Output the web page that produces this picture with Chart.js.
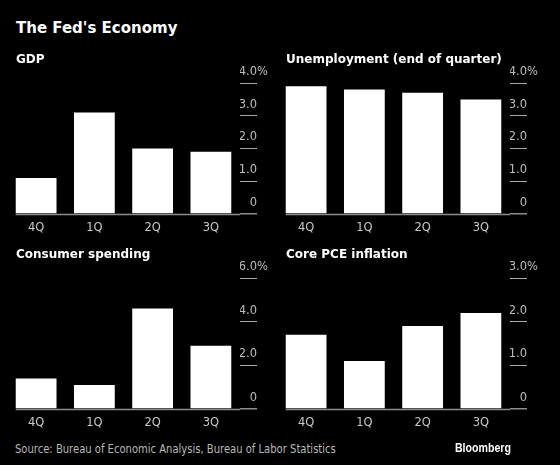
<!DOCTYPE html>
<html>
<head>
<meta charset="utf-8">
<script src="https://cdn.jsdelivr.net/npm/chart.js@4"></script>
<style>
  html, body { margin: 0; padding: 0; background: #000; }
  #wrap { position: relative; width: 560px; height: 465px; background: #000; overflow: hidden; }
  .box { position: absolute; width: 280px; height: 178px; }
  .txt { position: absolute; color: #fff; white-space: nowrap; font-family: "DejaVu Sans", sans-serif; font-weight: bold; z-index: 2; }
  .title { left: 16px; top: 19px; font-size: 15px; }
  .sub { font-size: 12px; }
  .source { left: 15px; top: 441px; font-family: "DejaVu Sans Condensed", sans-serif; font-weight: normal; font-size: 12.5px; color: #b8b8b8; transform: scaleX(0.89); transform-origin: left center; }
  .brand { right: 49px; top: 441px; font-family: "Liberation Sans", sans-serif; font-size: 12.5px; color: #fff; transform: scaleX(0.85); transform-origin: right center; }
</style>
</head>
<body>
<div id="wrap">
  <div class="txt title">The Fed's Economy</div>
  <div class="txt sub" style="left:16px;top:52px">GDP</div>
  <div class="txt sub" style="left:286px;top:52px">Unemployment (end of quarter)</div>
  <div class="txt sub" style="left:16px;top:247px">Consumer spending</div>
  <div class="txt sub" style="left:286px;top:247px">Core PCE inflation</div>

  <div class="box" style="left:0;top:62px"><canvas id="gdpChart"></canvas></div>
  <div class="box" style="left:270px;top:62px"><canvas id="unempChart"></canvas></div>
  <div class="box" style="left:0;top:257px"><canvas id="spendChart"></canvas></div>
  <div class="box" style="left:270px;top:257px"><canvas id="pceChart"></canvas></div>

  <div class="txt source">Source: Bureau of Economic Analysis, Bureau of Labor Statistics</div>
  <div class="txt brand">Bloomberg</div>
</div>

<script>
// quarters shown on every panel
const quarters = ['4Q', '1Q', '2Q', '3Q'];

// values, percent
const gdp = [1.1, 3.1, 2.0, 1.9];
const unemployment = [3.9, 3.8, 3.7, 3.5];
const consumerSpending = [1.4, 1.1, 4.6, 2.9];
const corePce = [1.7, 1.1, 1.9, 2.2];

// y axis range per panel: [min, max, step]
const gdpAxis = [0, 4, 1];
const unempAxis = [0, 4, 1];
const spendAxis = [0, 6, 2];
const pceAxis = [0, 3, 1];

const tickFont = { family: "'DejaVu Sans', sans-serif", size: 11.5 };

// baseline from first bar edge to the plot's right side
const baselinePlugin = {
    id: 'baseline',
    afterDatasetsDraw(chart) {
        const meta = chart.getDatasetMeta(0);
        const first = meta.data[0];
        const y = Math.round(chart.scales.y.getPixelForValue(0)) + 0.5;
        const ctx = chart.ctx;
        ctx.save();
        ctx.strokeStyle = '#8c8c8c';
        ctx.lineWidth = 1.5;
        ctx.beginPath();
        ctx.moveTo(first.x - first.width / 2, y);
        ctx.lineTo(chart.chartArea.right, y);
        ctx.stroke();
        ctx.restore();
    }
};

// percent sign hanging after the top tick label
const percentPlugin = {
    id: 'percentSign',
    afterDraw(chart) {
        const s = chart.scales.y;
        const last = s.ticks[s.ticks.length - 1];
        const ctx = chart.ctx;
        ctx.save();
        ctx.font = tickFont.size + 'px ' + tickFont.family;
        const y = s.getPixelForValue(last.value) + s.options.ticks.labelOffset;
        ctx.fillStyle = '#bdbdbd';
        ctx.textAlign = 'left';
        ctx.textBaseline = 'middle';
        ctx.fillText('%', s.right, y);
        ctx.restore();
    }
};

function tampilkanPanel(canvasId, values, axis) {
    const ctx = document.getElementById(canvasId).getContext('2d');
    return new Chart(ctx, {
        type: 'bar',
        data: {
            labels: quarters,
            datasets: [{
                data: values,
                backgroundColor: '#ffffff',
                borderWidth: 0,
                barPercentage: 0.7,
                categoryPercentage: 1.0
            }]
        },
        options: {
            responsive: true,
            maintainAspectRatio: false,
            animation: false,
            devicePixelRatio: 1,
            layout: { padding: { top: 21, left: 7, right: 23, bottom: 0 } },
            plugins: {
                legend: { display: false },
                tooltip: { enabled: false }
            },
            scales: {
                x: {
                    grid: { display: false },
                    border: { display: false },
                    ticks: { color: '#c8c8c8', font: tickFont, padding: -1 },
                    afterFit: (s) => { s.height = 26; }
                },
                y: {
                    position: 'right',
                    min: axis[0],
                    max: axis[1],
                    border: { display: false },
                    grid: {
                        drawOnChartArea: false,
                        drawTicks: true,
                        tickLength: 17,
                        tickColor: (c) => c.tick.value === 0 ? '#8c8c8c' : '#a8a8a8',
                        lineWidth: (c) => c.tick.value === 0 ? 1.5 : 1
                    },
                    ticks: {
                        stepSize: axis[2],
                        color: '#bdbdbd',
                        font: tickFont,
                        padding: 0,
                        labelOffset: -11,
                        crossAlign: 'far',
                        autoSkip: false,
                        callback: (v) => v === 0 ? '0' : v.toFixed(1)
                    },
                    afterFit: (s) => { s.width = 17; }
                }
            }
        },
        plugins: [baselinePlugin, percentPlugin]
    });
}

tampilkanPanel('gdpChart', gdp, gdpAxis);
tampilkanPanel('unempChart', unemployment, unempAxis);
tampilkanPanel('spendChart', consumerSpending, spendAxis);
tampilkanPanel('pceChart', corePce, pceAxis);
</script>
</body>
</html>
